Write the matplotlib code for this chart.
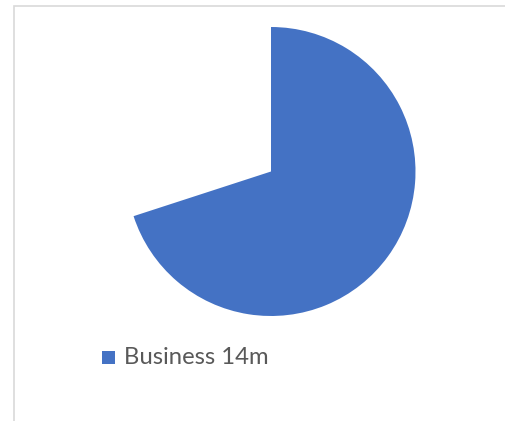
import matplotlib.pyplot as plt
from matplotlib.patches import Rectangle

# Slice values in millions; only the business share is filled in
labels = ['Business 14m', 'Other']
values = [14, 6]
colors = ['#4472C4', 'none']

width_px, height_px = 506, 421
dpi = 100

fig = plt.figure(figsize=(width_px / dpi, height_px / dpi), dpi=dpi)

# Pie centre and radius in pixels (measured from the top-left corner)
cx, cy, radius = 271, 171.5, 144.5
ax = fig.add_axes([
    (cx - radius) / width_px,
    (height_px - cy - radius) / height_px,
    2 * radius / width_px,
    2 * radius / height_px,
])
wedges, _ = ax.pie(
    values,
    colors=colors,
    startangle=90,
    counterclock=False,
    radius=1,
    wedgeprops={'linewidth': 0},
)
ax.set_xlim(-1, 1)
ax.set_ylim(-1, 1)
ax.set_aspect('auto')
ax.axis('off')

# Light grey chart-area border, running off the right and bottom edges
fig.add_artist(Rectangle(
    (14.5 / width_px, -0.05), 1.0, (height_px - 6) / height_px + 0.05,
    transform=fig.transFigure, fill=False, edgecolor='#d9d9d9', linewidth=1.2,
))

# Legend entry for the filled slice
sq = 13
fig.add_artist(Rectangle(
    (102.5 / width_px, (height_px - 357 - sq / 2) / height_px),
    sq / width_px, sq / height_px,
    transform=fig.transFigure, facecolor=colors[0], edgecolor='none',
))
fig.text(124.5 / width_px, (height_px - 357) / height_px, labels[0],
         fontsize=17.2, color='#595959', family='Lato', va='center', ha='left')

fig.savefig('out.png', dpi=dpi)
